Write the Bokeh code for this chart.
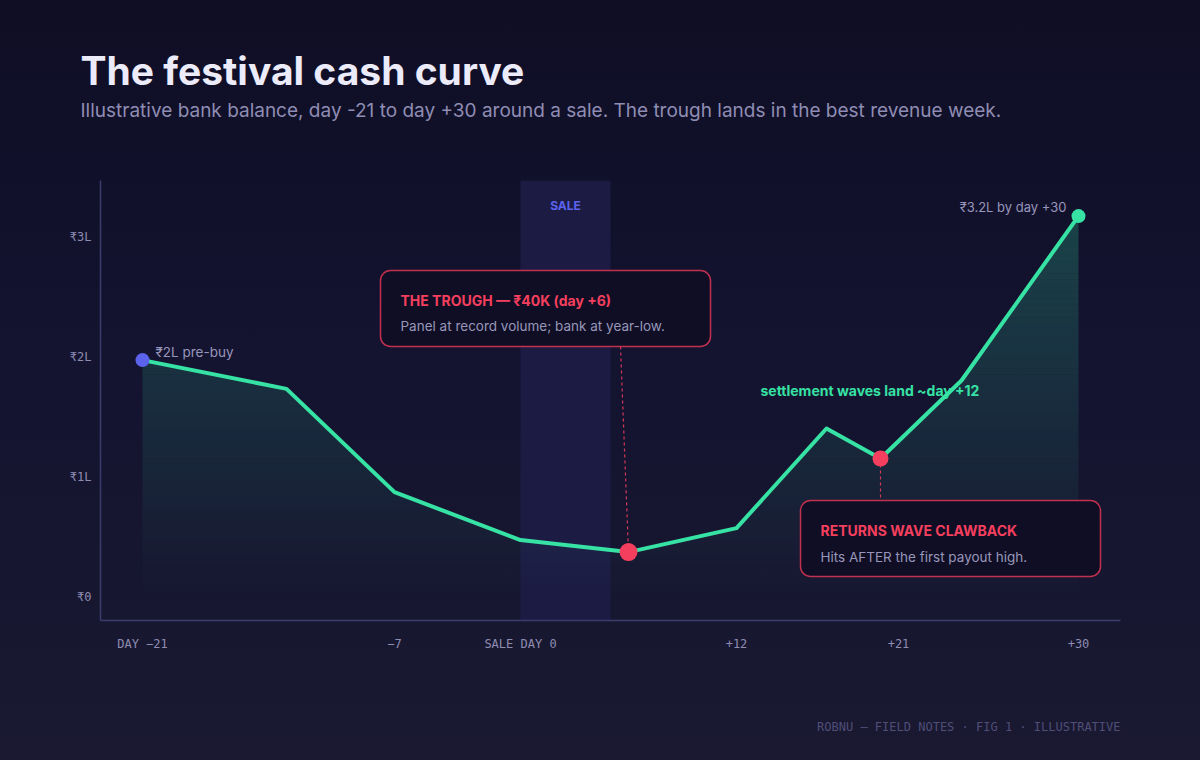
import numpy as np
from bokeh.plotting import figure
from bokeh.models import Range1d, FixedTicker, BoxAnnotation, Label, Title
from bokeh.core.properties import value
from bokeh.embed import file_html
from bokeh.resources import INLINE

# ---------------- data ----------------
days = [-21, -13, -7, 0, 6, 12, 17, 20, 24.5, 31]
balance_lakh = [1.97, 1.73, 0.87, 0.47, 0.37, 0.57, 1.40, 1.15, 1.80, 3.17]
x_tick_days = [-21, -7, 0, 12, 21, 31]
x_tick_labels = ["DAY −21", "−7", "SALE DAY 0", "+12", "+21", "+30"]
y_ticks = [0, 1, 2, 3]
y_tick_labels = ["₹0", "₹1L", "₹2L", "₹3L"]
sale_window = [0, 5]
trough_i = 4
returns_i = 7

# ---------------- style ----------------
TEAL = "#36e2a4"
RED = "#f43f5e"
BLUE = "#5b63ec"
SANS = "Inter"
MONO = "DejaVu Sans Mono"

X0, X1 = -23.3333, 33.3333
Y0, Y1 = -0.2, 3.46667
FL, FT, FW, FH = 100, 180, 1020, 440


def dx(px):
    return X0 + (px - FL) * (X1 - X0) / FW


def dy(py):
    return Y1 - (py - FT) * (Y1 - Y0) / FH


p = figure(width=1200, height=760, x_range=Range1d(X0, X1), y_range=Range1d(Y0, Y1),
           output_backend="svg", toolbar_location=None,
           min_border_left=100, min_border_right=80, min_border_top=180, min_border_bottom=140)
p.background_fill_alpha = 0
p.border_fill_alpha = 0
p.outline_line_color = None
p.styles = {"background": "linear-gradient(180deg, #0f0e25 0%, #141330 45%, #1a1931 100%)"}
p.xgrid.visible = False
p.ygrid.visible = False

for ax in (p.xaxis, p.yaxis):
    ax.axis_line_color = "#3c3c6c"
    ax.axis_line_width = 1.5
    ax.major_tick_line_color = None
    ax.minor_tick_line_color = None
    ax.major_label_text_font = MONO
    ax.major_label_text_font_size = "12px"
    ax.major_label_text_color = "#8e8cb0"

p.xaxis.ticker = FixedTicker(ticks=x_tick_days)
p.xaxis.major_label_overrides = {d: l for d, l in zip(x_tick_days, x_tick_labels)}
p.xaxis.major_label_standoff = 10
p.yaxis.ticker = FixedTicker(ticks=y_ticks)
p.yaxis.major_label_overrides = {t: l for t, l in zip(y_ticks, y_tick_labels)}
p.yaxis.major_label_standoff = 3

# header: near-invisible spacer nearest the frame, then subtitle, then title
p.add_layout(Title(text=".", text_font=SANS, text_font_size="10px", text_color="#141330",
                   text_alpha=0.01, standoff=49), "above")
p.add_layout(Title(text="Illustrative bank balance, day -21 to day +30 around a sale. "
                        "The trough lands in the best revenue week.",
                   text_font=SANS, text_font_size="19px", text_font_style="normal",
                   text_color="#8f8db3", align="left", offset=-20, standoff=0), "above")
p.add_layout(Title(text="The festival cash curve", text_font=SANS, text_font_size="39px",
                   text_font_style="bold", text_color="#ecebfa", align="left", offset=-20,
                   standoff=5), "above")
# footer: near-invisible spacer below the axis, then the credit line
p.add_layout(Title(text=".", text_font=SANS, text_font_size="10px", text_color="#1a1931",
                   text_alpha=0.01, standoff=54), "below")
p.add_layout(Title(text="ROBNU — FIELD NOTES · FIG 1 · ILLUSTRATIVE", text_font=MONO,
                   text_font_size="12px", text_font_style="normal", text_color="#4f4e78",
                   align="right", standoff=0), "below")

# sale band
p.add_layout(BoxAnnotation(left=sale_window[0], right=sale_window[1], fill_color="#1c1b44",
                           fill_alpha=1, line_color=None, level="underlay"))

# gradient area under the curve
xs = np.linspace(days[0], days[-1], 900)
ys = np.interp(xs, days, balance_lakh)
top = max(balance_lakh)
n = 60
for k in range(n):
    lo, hi = top * k / n, top * (k + 1) / n
    p.varea(x=xs, y1=np.minimum(ys, lo), y2=np.minimum(ys, hi),
            fill_color=TEAL, fill_alpha=0.24 * (k + 0.5) / n)

# settlement label (under the line)
p.text(x=[dx(760)], y=[dy(390)], text=["settlement waves land ~day +12"],
       text_font=value(SANS), text_font_style="bold", text_font_size="14px",
       text_color=TEAL, text_baseline="alphabetic", text_align="left")

# connectors
p.segment(x0=[dx(620)], y0=[dy(346)], x1=[days[trough_i]], y1=[balance_lakh[trough_i]],
          line_color=RED, line_width=1.2, line_dash="3 3", line_alpha=0.85)
p.segment(x0=[days[returns_i]], y0=[balance_lakh[returns_i]], x1=[days[returns_i]], y1=[dy(500)],
          line_color=RED, line_width=1.2, line_dash="3 3", line_alpha=0.85)

# curve
p.line(days, balance_lakh, line_color=TEAL, line_width=4, line_join="round", line_cap="round")

# markers
p.scatter([days[0]], [balance_lakh[0]], size=14, fill_color=BLUE, line_color=None)
p.scatter([days[-1]], [balance_lakh[-1]], size=14, fill_color=TEAL, line_color=None)
p.scatter([days[trough_i]], [balance_lakh[trough_i]], size=18, fill_color=RED, line_color=None)
p.scatter([days[returns_i]], [balance_lakh[returns_i]], size=16, fill_color=RED, line_color=None)


def lab(text, px, py, size, color, font=SANS, style="normal", align="left"):
    p.add_layout(Label(x=dx(px), y=dy(py), text=text, text_font=font, text_font_size=size,
                       text_font_style=style, text_color=color, text_align=align,
                       text_baseline="alphabetic"))


# annotation boxes
def box(l, t, r, b):
    p.add_layout(BoxAnnotation(left=dx(l), right=dx(r), top=dy(t), bottom=dy(b),
                               fill_color="#0f0e24", fill_alpha=1, line_color="#c2304f",
                               line_alpha=1, line_width=1.5, border_radius=10))


box(380, 270, 710, 346)
box(800, 500, 1100, 576)

lab("THE TROUGH — ₹40K (day +6)", 400, 300, "14px", RED, style="bold")
lab("Panel at record volume; bank at year-low.", 400, 325, "13.5px", "#9896ba")
lab("RETURNS WAVE CLAWBACK", 820, 530, "14px", RED, style="bold")
lab("Hits AFTER the first payout high.", 820, 556, "13.5px", "#9896ba")

lab("SALE", 565, 205, "12px", BLUE, style="bold", align="center")
lab("₹2L pre-buy", 155, 351, "13.5px", "#9896ba")
lab("₹3.2L by day +30", 1066, 206, "13px", "#9896ba", align="right")

open("out.html", "w").write(file_html(p, INLINE))
